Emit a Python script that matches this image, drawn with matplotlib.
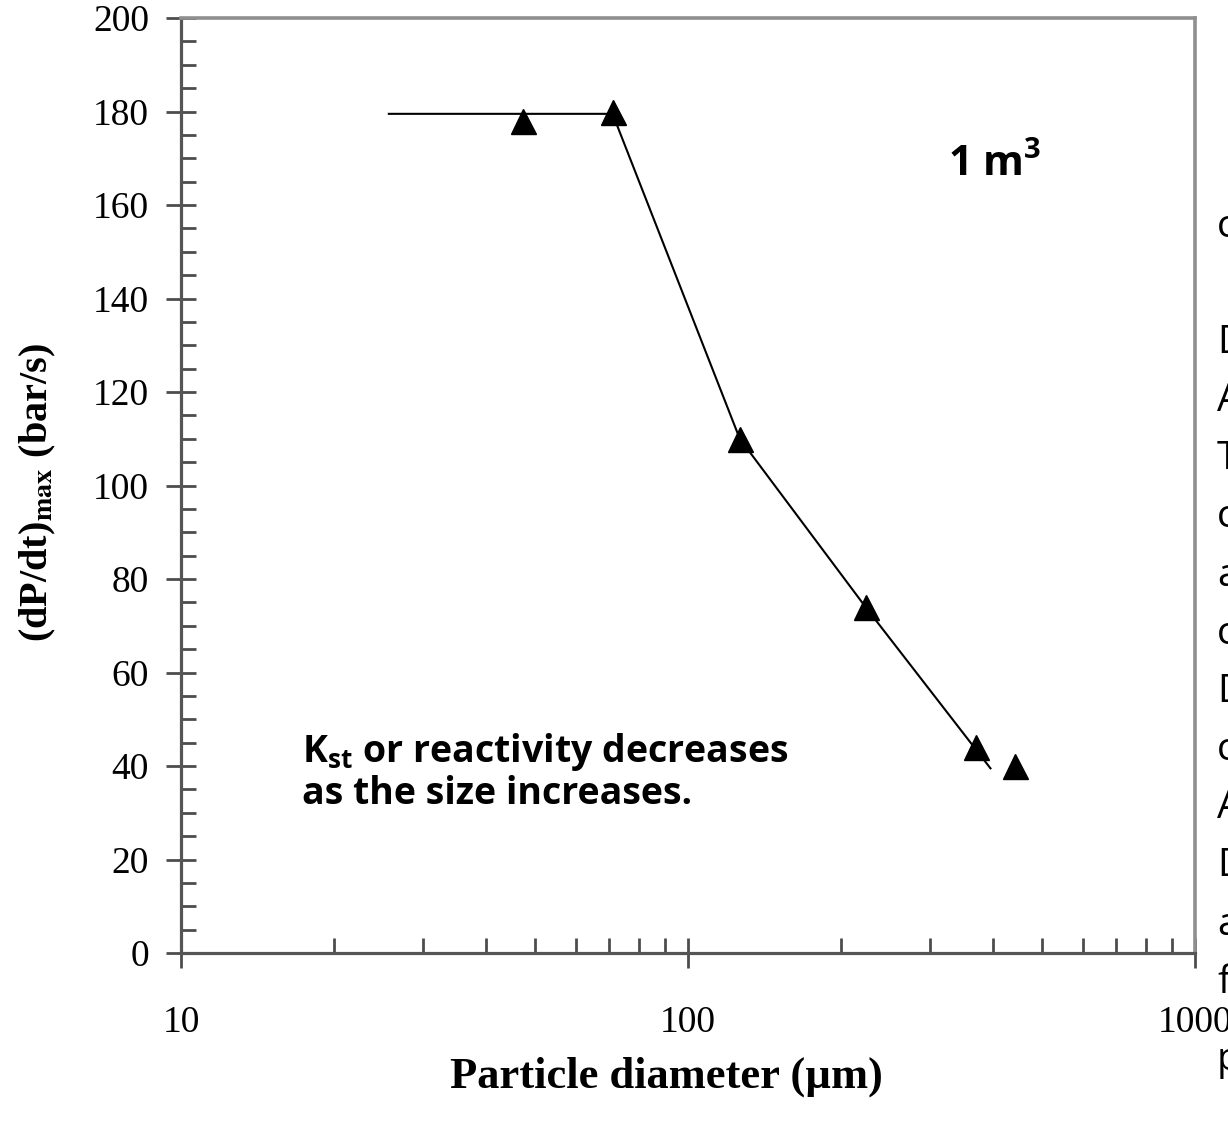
import matplotlib
matplotlib.use("Agg")
import matplotlib.pyplot as plt
from matplotlib.ticker import FixedLocator, NullFormatter, MultipleLocator

# Measured explosion data, 1 m3 vessel
particle_diameter = [47.3, 71.0, 126.5, 224.0, 370.0, 442.0]   # um
dpdt_max = [178.0, 180.0, 110.0, 74.0, 44.0, 40.0]             # bar/s

# Trend line drawn through the data
trend_diameter = [25.7, 71.0, 126.5, 224.0, 395.0]
trend_dpdt = [179.5, 179.5, 110.0, 74.0, 39.5]

x_major_ticks = [10, 100, 1000]
x_tick_labels = ["10", "100", "1000"]
y_major_ticks = list(range(0, 201, 20))

# Fragments of neighbouring text cut off at the right edge
edge_letters = ["c", "D", "A", "T", "c", "a", "c", "D", "c", "A", "D", "a", "f", "p"]
edge_rows_px = [227, 343, 401, 459, 517, 576, 634, 692, 750, 808, 866, 925, 983, 1060]

sans = "Open Sans"
serif = "Liberation Serif"
plt.rcParams["mathtext.fontset"] = "custom"
plt.rcParams["mathtext.rm"] = sans
plt.rcParams["mathtext.bf"] = sans + ":bold"
plt.rcParams["mathtext.it"] = sans + ":italic"

W, H = 1228, 1122
fig = plt.figure(figsize=(W / 100, H / 100), dpi=100)
ax = fig.add_axes([181 / W, 1 - 953 / H, (1195 - 181) / W, (953 - 18) / H])

ax.plot(trend_diameter, trend_dpdt, color="black", lw=1.5, zorder=2)
ax.plot(particle_diameter, dpdt_max, linestyle="none", marker="^",
        markersize=18, color="black", zorder=3)

ax.set_xscale("log")
ax.set_xlim(10, 1000)
ax.set_ylim(0, 200)

ax.xaxis.set_major_locator(FixedLocator(x_major_ticks))
ax.set_xticklabels(x_tick_labels)
ax.xaxis.set_minor_locator(FixedLocator([v * d for d in (10, 100) for v in range(2, 10)]))
ax.xaxis.set_minor_formatter(NullFormatter())
ax.yaxis.set_major_locator(FixedLocator(y_major_ticks))
ax.yaxis.set_minor_locator(MultipleLocator(5))

axis_grey = "#4d4d4d"
ax.tick_params(axis="both", which="major", direction="inout", length=22,
               width=2, color=axis_grey, labelsize=27)
ax.tick_params(axis="both", which="minor", direction="in", length=11,
               width=2, color=axis_grey)
ax.tick_params(axis="y", which="major", pad=12)
ax.tick_params(axis="x", which="major", pad=27)
for lab in ax.get_xticklabels() + ax.get_yticklabels():
    lab.set_fontfamily(serif)

for side in ("left", "bottom"):
    ax.spines[side].set_color("#555555")
    ax.spines[side].set_linewidth(2.3)
for side in ("top", "right"):
    ax.spines[side].set_color("#8f8f8f")
    ax.spines[side].set_linewidth(2.6)

ax.set_ylabel(r"(dP/dt)$_{\mathbf{max}}$ (bar/s)", fontfamily=serif,
              fontweight="bold", fontsize=29, math_fontfamily="stix")
ax.yaxis.label.set_va("center")
ax.yaxis.set_label_coords((38 - 181) / 1014, (953 - 492) / 935)
ax.set_xlabel("Particle diameter (\u00b5m)", fontfamily=serif,
              fontweight="bold", fontsize=32)
ax.xaxis.label.set_va("center")
ax.xaxis.set_label_coords((666 - 181) / 1014, (953 - 1077) / 935)

ax.text((948 - 181) / 1014, (953 - 165) / 935, r"1 m$^{\mathbf{3}}$",
        transform=ax.transAxes, fontfamily=sans, fontweight="bold",
        fontsize=30, va="center", ha="left", math_fontfamily="custom")
ax.text((302 - 181) / 1014, (953 - 772) / 935,
        "K$_{\\mathbf{st}}$ or reactivity decreases\nas the size increases.",
        transform=ax.transAxes, fontfamily=sans, fontweight="bold",
        fontsize=27, va="center", ha="left", math_fontfamily="custom",
        linespacing=1.05)

for letter, row in zip(edge_letters, edge_rows_px):
    fig.text(1217 / W, 1 - row / H, letter, fontfamily=sans, fontsize=28,
             va="center", ha="left")

fig.savefig("out.png", dpi=100)
